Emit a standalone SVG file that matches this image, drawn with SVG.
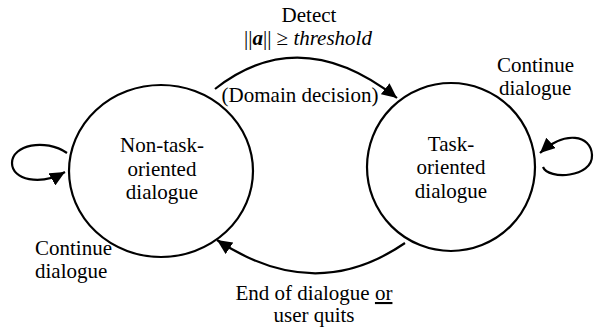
<svg xmlns="http://www.w3.org/2000/svg" width="595" height="330" viewBox="0 0 595 330">
<style>
text{font-family:"Liberation Serif","Times New Roman","DejaVu Serif",serif;font-size:21px;fill:#000}
.c{text-anchor:middle}
.n{fill:none;stroke:#000;stroke-width:2.2}
.e{fill:none;stroke:#000;stroke-width:2.2}
</style>
<defs>
<marker id="ah" markerUnits="userSpaceOnUse" markerWidth="16" markerHeight="14" refX="15" refY="7" orient="auto">
<path d="M0,0 L15,7 L0,14 z" fill="#000"/>
</marker>
</defs>
<rect width="595" height="330" fill="#fff"/>
<g id="non-task">
<ellipse class="n" cx="161" cy="171" rx="92" ry="86"/>
<text class="c" x="162" y="152" font-family="Liberation Serif, serif">Non-task-</text>
<text class="c" x="162" y="176" font-family="Liberation Serif, serif">oriented</text>
<text class="c" x="162" y="199" font-family="Liberation Serif, serif">dialogue</text>
</g>
<g id="task">
<ellipse class="n" cx="451" cy="167" rx="84" ry="84"/>
<text class="c" x="451" y="151" font-family="Liberation Serif, serif">Task-</text>
<text class="c" x="451" y="174" font-family="Liberation Serif, serif">oriented</text>
<text class="c" x="451" y="198" font-family="Liberation Serif, serif">dialogue</text>
</g>
<g id="connectors">
<path class="e" d="M215,89 Q300,22 397,98" marker-end="url(#ah)"/>
<path class="e" d="M405,243 Q315,305 217,240" marker-end="url(#ah)"/>
<path class="e" d="M67,153 C45,138 12,145 12,163 C12,180 40,186 65,172" marker-end="url(#ah)"/>
<path class="e" d="M543,167 C548,180 593,178 592,155 C591,135 565,130 540,153" marker-end="url(#ah)"/>
</g>
<g id="labels" font-family="Liberation Serif, serif">
<text class="c" x="309" y="22">Detect</text>
<text class="c" x="308" y="45">||<tspan font-weight="bold" font-style="italic">a</tspan>|| ≥ <tspan font-style="italic">threshold</tspan></text>
<text class="c" x="300" y="102">(Domain decision)</text>
<text x="497" y="72">Continue</text>
<text x="499" y="95">dialogue</text>
<text x="35" y="255">Continue</text>
<text x="35" y="278">dialogue</text>
<text class="c" x="314" y="300">End of dialogue <tspan text-decoration="underline">or</tspan></text>
<text class="c" x="314" y="322">user quits</text>
</g>
</svg>
